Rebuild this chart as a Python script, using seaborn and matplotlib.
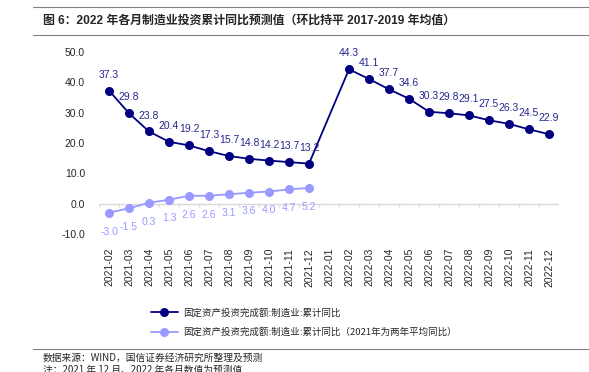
import numpy as np
import pandas as pd
import seaborn as sns
import matplotlib.pyplot as plt
from matplotlib.lines import Line2D

months = ['2021-02', '2021-03', '2021-04', '2021-05', '2021-06', '2021-07',
          '2021-08', '2021-09', '2021-10', '2021-11', '2021-12', '2022-01',
          '2022-02', '2022-03', '2022-04', '2022-05', '2022-06', '2022-07',
          '2022-08', '2022-09', '2022-10', '2022-11', '2022-12']
mfg_yoy = [37.3, 29.8, 23.8, 20.4, 19.2, 17.3, 15.7, 14.8, 14.2, 13.7, 13.2, np.nan,
           44.3, 41.1, 37.7, 34.6, 30.3, 29.8, 29.1, 27.5, 26.3, 24.5, 22.9]
mfg_2y_avg = [-3.0, -1.5, 0.3, 1.3, 2.6, 2.6, 3.1, 3.6, 4.0, 4.7, 5.2] + [np.nan] * 12
y_ticks = [-10, 0, 10, 20, 30, 40, 50]

name1 = '固定资产投资完成额:制造业:累计同比'
name2 = '固定资产投资完成额:制造业:累计同比（2021年为两年平均同比）'
title = '图 6：2022 年各月制造业投资累计同比预测值（环比持平 2017-2019 年均值）'

dark = '#000080'
dark_lbl = '#26268f'
light = '#9999ff'

df = pd.DataFrame({'pos': np.arange(len(months)), 'month': months,
                   'a': mfg_yoy, 'b': mfg_2y_avg})

sns.set_style('white')
plt.rcParams['font.family'] = ['Liberation Sans', 'Noto Sans CJK SC', 'DejaVu Sans']
cjk = ['Noto Sans CJK SC', 'DejaVu Sans']

fig = plt.figure(figsize=(5.89, 3.72), dpi=100)
ax = fig.add_axes([99 / 589, 1 - 234 / 372, 460 / 589, 182 / 372])

sns.lineplot(data=df, x='pos', y='a', ax=ax, color=dark, lw=1.3,
             marker='o', markersize=6.5, markeredgewidth=0, label=name1)
sns.lineplot(data=df, x='pos', y='b', ax=ax, color=light, lw=1.3,
             marker='o', markersize=6.5, markeredgewidth=0, label=name2)

for i, v in enumerate(mfg_yoy):
    if not np.isnan(v):
        ax.annotate(f'{v:.1f}', (i, v), xytext=(0, 11.5), textcoords='offset points',
                    ha='center', va='center', fontsize=7.5, color=dark_lbl)
for i, v in enumerate(mfg_2y_avg):
    if not np.isnan(v):
        ax.annotate(f'{v:.1f}', (i, v), xytext=(0, -13.5), textcoords='offset points',
                    ha='center', va='center', fontsize=7.5, color=light)

# zero line with boundary ticks
ax.axhline(0, color='#d9d9d9', lw=1, zorder=0)
ax.vlines(np.arange(-0.5, len(months)), -1.0, 0, color='#d9d9d9', lw=1, zorder=0)

ax.set_xlim(-0.5, len(months) - 0.5)
ax.set_ylim(-10, 50)
ax.set_yticks(y_ticks)
ax.set_yticklabels([f'{t:.1f}' for t in y_ticks], fontsize=7.5)
ax.set_xticks(df['pos'])
ax.set_xticklabels(months, rotation=90, fontsize=7.5)
ax.tick_params(axis='x', length=0, pad=10)
ax.tick_params(axis='y', length=0, pad=10)
ax.set_xlabel('')
ax.set_ylabel('')
for s in ax.spines.values():
    s.set_visible(False)

ax.legend(loc='upper left', bbox_to_anchor=(146 / 589, 1 - 303 / 372),
          bbox_transform=fig.transFigure, frameon=False, borderpad=0,
          handlelength=2.9, handletextpad=0.55, labelspacing=1.05,
          prop={'family': cjk, 'size': 6.8})

# title and footer rules
for yy in (7, 35, 349):
    fig.add_artist(Line2D([33 / 589, 1], [1 - yy / 372] * 2, color='#808080', lw=0.8))
fig.text(43 / 589, 1 - 21 / 372, title, fontsize=8.6, fontweight='bold',
         family=['Liberation Sans', 'Noto Sans CJK SC'], va='center')
fig.text(43 / 589, 1 - 358 / 372, '数据来源：WIND，国信证券经济研究所整理及预测',
         fontsize=7, family=cjk, va='center')
fig.text(43 / 589, 1 - 365 / 372, '注：2021 年 12 月、2022 年各月数值为预测值',
         fontsize=7, family=cjk, va='top')

fig.savefig('out.png', dpi=100)
